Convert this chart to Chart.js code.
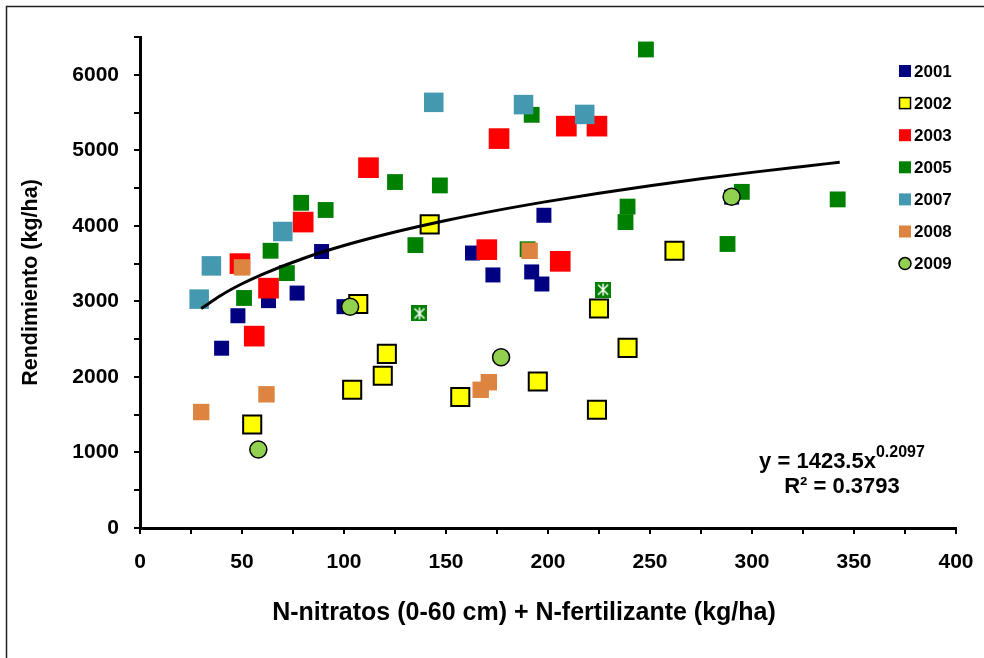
<!DOCTYPE html>
<html>
<head>
<meta charset="utf-8">
<script src="https://cdn.jsdelivr.net/npm/chart.js@4/dist/chart.umd.min.js"></script>
<style>
  html, body { margin: 0; padding: 0; background: #fff; }
  #wrap { width: 984px; height: 658px; }
</style>
</head>
<body>
<div id="wrap"><canvas id="yield-chart" width="984" height="658"></canvas></div>
<script>
// Values: N available (kg/ha) vs yield (kg/ha)
const x2001 = [40, 48, 63, 77, 89, 100, 163, 173, 192, 197, 198, 290];
const y2001 = [2380, 2810, 3010, 3110, 3660, 2930, 3640, 3350, 3390, 3230, 4140, 4380];

const x2002 = [55, 104, 107, 119, 121, 142, 157, 195, 224, 225, 239, 262];
const y2002 = [1370, 1830, 2965, 2015, 2305, 4020, 1735, 1940, 1565, 2905, 2385, 3670];

const x2003 = [49, 56, 63, 80, 112, 170, 176, 206, 209, 224];
const y2003 = [3500, 2540, 3175, 4050, 4770, 3685, 5155, 3530, 5320, 5320];

const x2005 = [51, 64, 72, 79, 91, 125, 135, 147, 190, 192, 238, 239, 248, 288, 295, 342];
const y2005 = [3045, 3670, 3375, 4305, 4210, 4580, 3745, 4535, 3690, 5470, 4050, 4255, 6335, 3760, 4450, 4350];

// two green points drawn with a white cross mark (not in the legend)
const x2005b = [137, 227];
const y2005b = [2840, 3155];

const x2007 = [29, 35, 70, 144, 188, 218];
const y2007 = [3030, 3470, 3925, 5635, 5605, 5475];

const x2008 = [30, 50, 62, 167, 171, 191];
const y2008 = [1535, 3450, 1770, 1830, 1930, 3670];

const x2009 = [58, 103, 177, 290];
const y2009 = [1040, 2930, 2260, 4385];

// power trend line as drawn on the figure
const xTrend = [30, 40, 50, 60, 80, 100, 125, 150, 175, 200, 225, 250, 275, 300, 325, 343];
const yTrend = [2905, 3085, 3233, 3359, 3568, 3739, 3918, 4071, 4205, 4324, 4432, 4531, 4622, 4708, 4787, 4842];

const xTicks = [0, 50, 100, 150, 200, 250, 300, 350, 400];
const yTicks = [0, 1000, 2000, 3000, 4000, 5000, 6000];

const FONT = "'Liberation Sans', Arial, Helvetica, sans-serif";

const pts = (xs, ys) => xs.map((x, i) => ({x: x, y: ys[i]}));

// green square with a white cross for the unlabelled points
const crossMark = document.createElement('canvas');
crossMark.width = 16; crossMark.height = 16;
(function () {
  const c = crossMark.getContext('2d');
  c.fillStyle = '#008000';
  c.fillRect(0, 0, 16, 16);
  c.strokeStyle = '#fff';
  c.lineWidth = 1.5;
  c.beginPath();
  c.moveTo(3, 3); c.lineTo(13, 13);
  c.moveTo(13, 3); c.lineTo(3, 13);
  c.moveTo(8, 2); c.lineTo(8, 14);
  c.stroke();
})();

const series = [
  {label: '2001', data: pts(x2001, y2001), color: '#000080', style: 'rect', r: 10.6, border: 0},
  {label: '2002', data: pts(x2002, y2002), color: '#ffff00', style: 'rect', r: 12.8, border: 2},
  {label: '2003', data: pts(x2003, y2003), color: '#ff0000', style: 'rect', r: 14.6, border: 0},
  {label: '2005', data: pts(x2005, y2005), color: '#008000', style: 'rect', r: 11.2, border: 0},
  {label: '', data: pts(x2005b, y2005b), color: '#008000', style: crossMark, r: 8, border: 0},
  {label: '2007', data: pts(x2007, y2007), color: '#4499b0', style: 'rect', r: 13.8, border: 0},
  {label: '2008', data: pts(x2008, y2008), color: '#dd8540', style: 'rect', r: 11.6, border: 0},
  {label: '2009', data: pts(x2009, y2009), color: '#92d050', style: 'circle', r: 8.5, border: 1.5}
];

const datasets = series.map((s, i) => ({
  type: 'scatter',
  label: s.label,
  data: s.data,
  pointStyle: s.style,
  pointRadius: s.r,
  backgroundColor: s.color,
  borderColor: '#000',
  pointBorderWidth: s.border,
  order: series.length - i + 1
}));

datasets.push({
  type: 'line',
  label: 'trend',
  data: pts(xTrend, yTrend),
  borderColor: '#000',
  borderWidth: 3,
  pointRadius: 0,
  fill: false,
  cubicInterpolationMode: 'monotone',
  order: 0
});

// frame, legend, x title and equation
const decorations = {
  id: 'decorations',
  beforeDraw(chart) {
    const c = chart.ctx;
    c.save();
    c.fillStyle = '#fff';
    c.fillRect(0, 0, chart.width, chart.height);
    c.strokeStyle = '#222';
    c.lineWidth = 1.5;
    c.strokeRect(6.5, 6.5, 1000, 1000);
    c.restore();
  },
  afterDraw(chart) {
    const c = chart.ctx;
    c.save();
    c.fillStyle = '#000';
    c.textBaseline = 'middle';

    // legend
    const entries = series.filter(s => s.label);
    c.font = 'bold 17px ' + FONT;
    entries.forEach((s, i) => {
      const y = 71 + i * 32.1;
      c.fillStyle = s.color;
      c.strokeStyle = '#000';
      c.lineWidth = 1.5;
      if (s.style === 'circle') {
        c.beginPath();
        c.arc(905, y, 6, 0, Math.PI * 2);
        c.fill();
        c.stroke();
      } else {
        c.fillRect(899, y - 6, 12, 12);
        if (s.border) c.strokeRect(899.5, y - 5.5, 11, 11);
      }
      c.fillStyle = '#000';
      c.textAlign = 'left';
      c.fillText(s.label, 914, y + 1);
    });

    // x axis title
    c.font = 'bold 25px ' + FONT;
    c.textAlign = 'center';
    c.fillText('N-nitratos (0-60 cm) + N-fertilizante (kg/ha)', 524, 613);

    // equation
    c.font = 'bold 22px ' + FONT;
    c.textAlign = 'left';
    const base = 'y = 1423.5x';
    const bw = c.measureText(base).width;
    c.font = 'bold 16px ' + FONT;
    const ew = c.measureText('0.2097').width;
    const x0 = 842 - (bw + ew) / 2;
    c.font = 'bold 22px ' + FONT;
    c.fillText(base, x0, 462);
    c.font = 'bold 16px ' + FONT;
    c.fillText('0.2097', x0 + bw, 453);
    c.font = 'bold 22px ' + FONT;
    c.textAlign = 'center';
    c.fillText('R\u00b2 = 0.3793', 842, 487);
    c.restore();
  }
};

const ctx = document.getElementById('yield-chart').getContext('2d');
const chart = new Chart(ctx, {
  type: 'scatter',
  data: {datasets: datasets},
  options: {
    responsive: false,
    animation: false,
    layout: {padding: {top: 37, right: 28, left: 0, bottom: 0}},
    plugins: {
      legend: {display: false},
      tooltip: {enabled: false}
    },
    scales: {
      x: {
        type: 'linear',
        min: 0,
        max: 400,
        afterFit: s => { s.height = 130; s.paddingLeft = 0; s.paddingRight = 0; },
        ticks: {
          stepSize: 25,
          autoSkip: false,
          maxRotation: 0,
          padding: 16,
          color: '#000',
          font: {family: FONT, size: 21, weight: 'bold'},
          callback: v => xTicks.includes(v) ? String(v) : ''
        },
        grid: {drawOnChartArea: false, tickLength: 6, color: '#000', lineWidth: 2},
        border: {color: '#000', width: 3}
      },
      y: {
        min: 0,
        max: 6500,
        afterFit: s => { s.width = 140; },
        ticks: {
          stepSize: 500,
          autoSkip: false,
          padding: 15,
          color: '#000',
          font: {family: FONT, size: 21, weight: 'bold'},
          callback: v => yTicks.includes(v) ? String(v) : ''
        },
        grid: {drawOnChartArea: false, tickLength: 6, color: '#000', lineWidth: 2},
        border: {color: '#000', width: 3},
        title: {
          display: true,
          text: 'Rendimiento (kg/ha)',
          color: '#000',
          font: {family: FONT, size: 21.5, weight: 'bold'},
          padding: {top: 18}
        }
      }
    }
  },
  plugins: [decorations]
});
</script>
</body>
</html>
